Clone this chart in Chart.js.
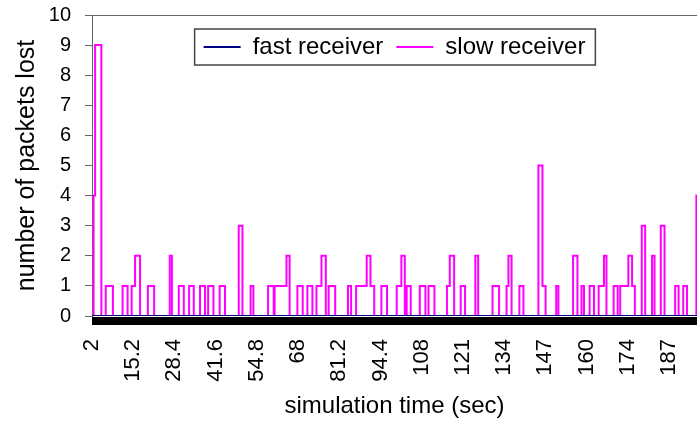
<!DOCTYPE html>
<html>
<head>
<meta charset="utf-8">
<script src="https://cdn.jsdelivr.net/npm/chart.js@4"></script>
<style>
  html, body { margin: 0; padding: 0; background: #fff; }
  #wrap { width: 697px; height: 422px; }
</style>
</head>
<body>
<div id="wrap"><canvas id="chart"></canvas></div>
<script>
// x axis tick positions (sec) and the labels Excel printed for them
const tickTimes = [2, 15.2, 28.4, 41.6, 54.8, 68, 81.2, 94.4, 107.6, 120.8, 134, 147.2, 160.4, 173.6, 186.8];
const tickLabels = ["2", "15.2", "28.4", "41.6", "54.8", "68", "81.2", "94.4", "108", "121", "134", "147", "160", "174", "187"];

// fast receiver: no losses
const fastTime = [2, 196];
const fastLost = [0, 0];

// slow receiver: change points (time in sec, packets lost from that time on)
const slowTime = [
  2, 2.5, 3.0, 5.0, 6.4, 8.7, 11.8, 13.4, 14.7, 15.8, 17.4, 19.9, 21.9,
  26.9, 27.6, 29.8, 31.4, 33.1, 34.6, 36.6, 38.2, 39.2, 40.9, 42.9, 44.6,
  49.0, 50.2, 52.8, 53.7, 58.4, 60.2, 60.5, 64.3, 65.3, 67.8, 69.5, 71.0, 72.6,
  73.9, 75.5, 76.9, 77.8, 79.9, 84.0, 85.0, 86.6, 90.0, 91.2, 92.4, 94.7, 96.5,
  99.6, 101.1, 102.2, 102.8, 104.1, 107.0, 108.8, 109.8, 111.7, 115.7, 116.6, 118.0,
  120.1, 121.5, 124.8, 125.7, 130.3, 132.4, 134.8, 135.4, 136.4, 138.9, 140.2,
  145.0, 146.3, 147.3, 150.7, 151.4, 156.1, 157.5, 158.8, 159.6, 161.4, 162.8,
  164.3, 166.0, 166.8, 169.1, 170.4, 171.2, 173.8, 175.0, 175.9, 178.1, 179.2,
  181.4, 182.2, 184.2, 185.4, 188.8, 189.9, 191.4, 192.6, 195.6, 196
];
const slowLost = [
  0, 4, 9, 0, 1, 0, 1, 0, 1, 2, 0, 1, 0,
  2, 0, 1, 0, 1, 0, 1, 0, 1, 0, 1, 0,
  3, 0, 1, 0, 1, 0, 1, 2, 0, 1, 0, 1, 0,
  1, 2, 0, 1, 0, 1, 0, 1, 2, 1, 0, 1, 0,
  1, 2, 0, 1, 0, 1, 0, 1, 0, 1, 2, 0,
  1, 0, 2, 0, 1, 0, 1, 2, 0, 1, 0,
  5, 1, 0, 1, 0, 2, 0, 1, 0, 1, 0,
  1, 2, 0, 1, 0, 1, 2, 1, 0, 3, 0,
  2, 0, 3, 0, 1, 0, 1, 0, 4, 4
];

const yTicks = [0, 1, 2, 3, 4, 5, 6, 7, 8, 9, 10];

const FONT = "'Liberation Sans', Arial, sans-serif";
Chart.defaults.font.family = FONT;
Chart.defaults.color = "#000";

const toPoints = (xs, ys) => xs.map((x, i) => ({ x: x, y: ys[i] }));

// legend sits inside the plot, in one row across the top
const legendInside = {
  id: "legendInside",
  afterInit(chart) {
    chart.legend.isHorizontal = () => true;
  },
  afterLayout(chart) {
    const lg = chart.legend;
    const ca = chart.chartArea;
    lg.left = ca.left;
    lg.right = ca.right;
    lg.width = ca.right - ca.left;
    lg.top = ca.top + 7;
  }
};

// thick black band under the zero line + box round the legend
const decor = {
  id: "decor",
  afterDatasetsDraw(chart) {
    const { ctx, chartArea } = chart;
    const y0 = chart.scales.y.getPixelForValue(0);
    ctx.save();
    ctx.fillStyle = "#000";
    ctx.fillRect(chartArea.left, y0 + 1, chartArea.right - chartArea.left, 8);
    ctx.restore();
  },
  afterDraw(chart) {
    const hb = chart.legend.legendHitBoxes;
    if (!hb || !hb.length) return;
    const last = hb[hb.length - 1];
    const left = hb[0].left - 9;
    const right = last.left + last.width + 10;
    const top = hb[0].top - 6;
    const bottom = hb[0].top + hb[0].height + 6;
    const ctx = chart.ctx;
    ctx.save();
    ctx.strokeStyle = "#444";
    ctx.lineWidth = 1.5;
    ctx.strokeRect(left, top, right - left, bottom - top);
    ctx.restore();
  }
};

new Chart(document.getElementById("chart"), {
  type: "line",
  data: {
    datasets: [
      {
        label: "fast receiver",
        data: toPoints(fastTime, fastLost),
        borderColor: "#000080",
        backgroundColor: "#000080",
        borderWidth: 2,
        pointRadius: 0,
        stepped: "before"
      },
      {
        label: "slow receiver",
        data: toPoints(slowTime, slowLost),
        borderColor: "#ff00ff",
        backgroundColor: "#ff00ff",
        borderWidth: 2,
        pointRadius: 0,
        stepped: "before"
      }
    ]
  },
  options: {
    responsive: true,
    maintainAspectRatio: false,
    animation: false,
    layout: { padding: { top: 15, right: 0, bottom: 0, left: 0 } },
    plugins: {
      tooltip: { enabled: false },
      legend: {
        position: "chartArea",
        align: "center",
        labels: {
          usePointStyle: true,
          pointStyle: "line",
          pointStyleWidth: 37,
          padding: 13,
          font: { size: 24 },
          color: "#000"
        }
      }
    },
    scales: {
      x: {
        type: "linear",
        min: 2,
        max: 195.8,
        afterFit: (s) => { s.height = 106; s.paddingLeft = 0; s.paddingRight = 0; },
        afterBuildTicks: (s) => { s.ticks = tickTimes.map((v) => ({ value: v })); },
        grid: { display: false },
        border: { display: false },
        ticks: {
          minRotation: 90,
          maxRotation: 90,
          padding: 15,
          font: { size: 22 },
          callback: (v, i) => tickLabels[i]
        },
        title: {
          display: true,
          text: "simulation time (sec)",
          font: { size: 24 },
          padding: { top: 0, bottom: 1 }
        }
      },
      y: {
        min: 0,
        max: 10,
        afterFit: (s) => { s.width = 92; s.paddingTop = 0; s.paddingBottom = 0; },
        afterBuildTicks: (s) => { s.ticks = yTicks.map((v) => ({ value: v })); },
        grid: {
          color: (c) => (c.tick && c.tick.value === 10 ? "#666" : "rgba(0,0,0,0)"),
          tickColor: "#666",
          tickLength: 7
        },
        border: { display: true, color: "#666", width: 1 },
        ticks: {
          padding: 14,
          font: { size: 20 }
        },
        title: {
          display: true,
          text: "number of packets lost",
          font: { size: 25 },
          padding: { top: 12, bottom: 0 }
        }
      }
    }
  },
  plugins: [legendInside, decor]
});
</script>
</body>
</html>
